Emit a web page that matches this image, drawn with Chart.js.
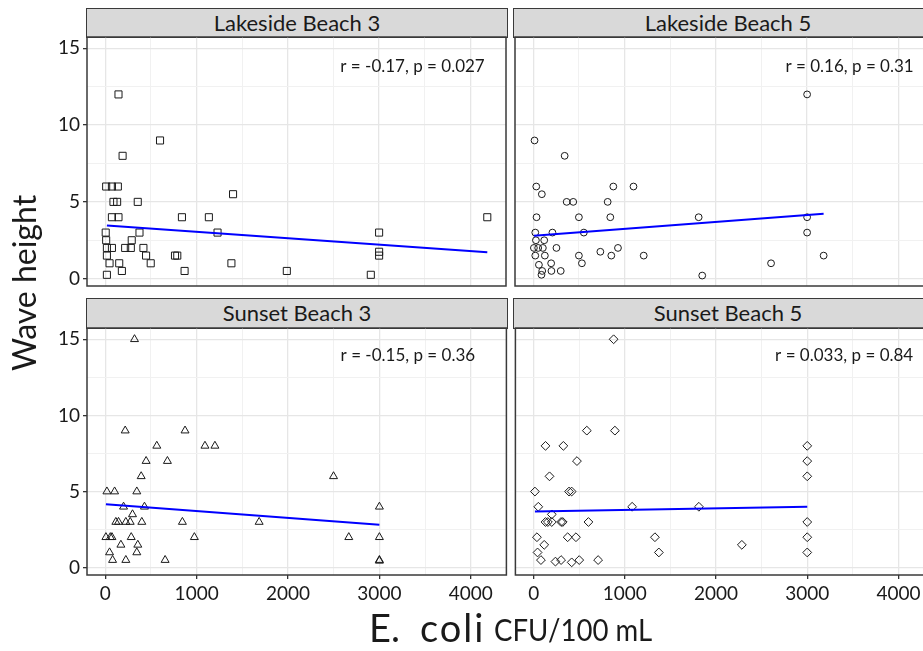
<!DOCTYPE html>
<html>
<head>
<meta charset="utf-8">
<title>Wave height vs E. coli</title>
<script src="https://cdn.jsdelivr.net/npm/chart.js@4/dist/chart.umd.min.js"></script>
<style>
  html, body { margin: 0; padding: 0; background: #fff; }
  body { width: 923px; height: 651px; overflow: hidden; position: relative; font-family: Lato, "Noto Sans", sans-serif; color: #1a1a1a; }
  canvas { position: absolute; }
  .strip { position: absolute; box-sizing: border-box; background: #d9d9d9; border: 1.5px solid #3a3a3a;
           font-size: 22px; text-align: center; color: #1a1a1a; white-space: nowrap; }
  .ytitle { position: absolute; width: 240px; height: 40px; line-height: 40px; text-align: center;
            font-size: 32px; transform: rotate(-90deg); white-space: nowrap; }
  .xt { position: absolute; white-space: nowrap; }
</style>
</head>
<body>

<div class="strip" style="left:86px;top:8px;width:422px;height:30px;line-height:27px;">Lakeside Beach 3</div>
<div class="strip" style="left:513px;top:8px;width:430px;height:30px;line-height:27px;"><span style="display:inline-block;width:422px;">Lakeside Beach 5</span></div>
<div class="strip" style="left:86px;top:298px;width:422px;height:31px;line-height:28px;">Sunset Beach 3</div>
<div class="strip" style="left:513px;top:298px;width:430px;height:31px;line-height:28px;"><span style="display:inline-block;width:422px;">Sunset Beach 5</span></div>

<canvas id="p0" width="512" height="262" style="left:0;top:30px;"></canvas>
<canvas id="p1" width="430" height="262" style="left:510px;top:30px;"></canvas>
<canvas id="p2" width="512" height="290" style="left:0;top:320px;"></canvas>
<canvas id="p3" width="430" height="290" style="left:510px;top:320px;"></canvas>

<div class="ytitle" style="left:-96px;top:263px;">Wave height</div>
<div class="xt" style="left:369px;top:608px;font-size:38px;line-height:38px;">E.</div>
<div class="xt" style="left:420px;top:608px;font-size:38px;line-height:38px;letter-spacing:2px;">coli</div>
<div class="xt" style="left:494px;top:614px;font-size:31px;line-height:31px;transform:scaleX(0.89);transform-origin:0 0;">CFU/100 mL</div>

<script>
// Facet titles and correlation labels
const panelTitles = ['Lakeside Beach 3', 'Lakeside Beach 5', 'Sunset Beach 3', 'Sunset Beach 5'];
const statLabels = ['r = -0.17, p = 0.027', 'r = 0.16, p = 0.31', 'r = -0.15, p = 0.36', 'r = 0.033, p = 0.84'];

// Axis ticks (major ones carry labels, minor ones only grid lines)
const xMajorTicks = [0, 1000, 2000, 3000, 4000];
const xMinorTicks = [500, 1500, 2500, 3500];
const yMajorTicks = [0, 5, 10, 15];
const yMinorTicks = [2.5, 7.5, 12.5];

// Lakeside Beach 3
const lakeside3Ecoli = [145, 600, 190, 10, 73, 138, 90, 130, 356, 1400, 73, 145, 840, 1135, 4185, 5, 375, 1230, 3000, 10, 290, 18, 73, 218, 280, 418, 18, 447, 764, 789, 3000, 3000, 47, 153, 498, 1382, 18, 182, 869, 1989, 2909];
const lakeside3Wave  = [12, 9, 8, 6, 6, 6, 5, 5, 5, 5.5, 4, 4, 4, 4, 4, 3, 3, 3, 3, 2.5, 2.5, 2, 2, 2, 2, 2, 1.5, 1.5, 1.5, 1.5, 1.75, 1.5, 1, 1, 1, 1, 0.25, 0.5, 0.5, 0.5, 0.25];
const lakeside3FitX = [18, 4185];
const lakeside3FitY = [3.46, 1.72];

// Lakeside Beach 5
const lakeside5Ecoli = [3000, 14, 344, 33, 877, 1098, 94, 366, 438, 815, 36, 500, 844, 1812, 3000, 22, 210, 554, 3000, 29, 120, 7, 54, 105, 254, 928, 22, 127, 500, 735, 855, 1210, 3181, 62, 196, 533, 2605, 98, 199, 301, 90, 1851];
const lakeside5Wave  = [12, 9, 8, 6, 6, 6, 5.5, 5, 5, 5, 4, 4, 4, 4, 4, 3, 3, 3, 3, 2.5, 2.5, 2, 2, 2, 2, 2, 1.5, 1.5, 1.5, 1.75, 1.5, 1.5, 1.5, 0.9, 1, 1, 1, 0.5, 0.5, 0.5, 0.25, 0.2];
const lakeside5FitX = [7, 3181];
const lakeside5FitY = [2.8, 4.23];

// Sunset Beach 3
const sunset3Ecoli = [320, 218, 873, 564, 1091, 1200, 447, 680, 393, 2498, 18, 102, 345, 200, 429, 3000, 298, 116, 145, 225, 273, 400, 844, 1684, 7, 55, 73, 284, 975, 2665, 3000, 171, 356, 47, 345, 80, 225, 655, 3000, 3000];
const sunset3Wave  = [15, 9, 9, 8, 8, 8, 7, 7, 6, 6, 5, 5, 5, 4, 4, 4, 3.5, 3, 3, 3, 3, 3, 3, 3, 2, 2, 2, 2, 2, 2, 2, 1.5, 1.5, 1, 1, 0.5, 0.5, 0.5, 0.5, 0.45];
const sunset3FitX = [7, 3000];
const sunset3FitY = [4.17, 2.82];

// Sunset Beach 5
const sunset5Ecoli = [877, 583, 891, 130, 326, 3000, 475, 3000, 174, 3000, 14, 388, 417, 51, 1080, 1812, 199, 130, 156, 199, 301, 319, 601, 3000, 36, 373, 464, 1330, 3000, 116, 2283, 43, 1373, 3000, 80, 239, 301, 417, 500, 707];
const sunset5Wave  = [15, 9, 9, 8, 8, 8, 7, 7, 6, 6, 5, 5, 5, 4, 4, 4, 3.5, 3, 3, 3, 3, 3, 3, 3, 2, 2, 2, 2, 2, 1.5, 1.5, 1, 1, 1, 0.5, 0.4, 0.5, 0.35, 0.5, 0.5];
const sunset5FitX = [14, 3000];
const sunset5FitY = [3.69, 4.0];

// Shared scale limits (includes the usual padding around the data)
const X_MIN = -200, X_MAX = 4390;
const Y_MIN = -0.48, Y_MAX = 15.74;

const INK = '#1a1a1a';
const FRAME = '#3a3a3a';

// Panel border plus the correlation label in data coordinates
const panelFrame = {
  id: 'panelFrame',
  afterDatasetsDraw(chart, args, opts) {
    const { ctx, chartArea: a, scales: { x, y } } = chart;
    ctx.save();
    ctx.font = '17px Lato, "Noto Sans", sans-serif';
    ctx.fillStyle = INK;
    ctx.textAlign = 'center';
    ctx.textBaseline = 'middle';
    ctx.fillText(opts.label, x.getPixelForValue(opts.at[0]), y.getPixelForValue(opts.at[1]));
    ctx.strokeStyle = FRAME;
    ctx.lineWidth = 1.5;
    ctx.strokeRect(a.left, a.top, a.right - a.left, a.bottom - a.top);
    ctx.restore();
  }
};

function asTicks(arr) { return arr.slice().sort((a, b) => a - b).map(v => ({ value: v })); }

function buildPanel(cfg) {
  const xAll = xMajorTicks.concat(xMinorTicks);
  const yAll = yMajorTicks.concat(yMinorTicks);
  const gridColor = (major) => (ctx) => (major.includes(ctx.tick && ctx.tick.value) ? '#e6e6e6' : '#f1f1f1');
  const gridWidth = (major) => (ctx) => (major.includes(ctx.tick && ctx.tick.value) ? 1.3 : 1);
  const tickColor = (major) => (ctx) => (major.includes(ctx.tick && ctx.tick.value) ? '#333333' : 'rgba(0,0,0,0)');

  return new Chart(document.getElementById(cfg.canvas), {
    type: 'scatter',
    data: {
      datasets: [
        {
          type: 'line',
          data: cfg.fitX.map((v, i) => ({ x: v, y: cfg.fitY[i] })),
          borderColor: '#0000ff',
          borderWidth: 2,
          pointRadius: 0,
          fill: false,
          tension: 0
        },
        {
          type: 'scatter',
          data: cfg.ecoli.map((v, i) => ({ x: v, y: cfg.wave[i] })),
          pointStyle: cfg.shape,
          pointRadius: cfg.radius,
          borderColor: INK,
          backgroundColor: 'rgba(0,0,0,0)',
          borderWidth: 1
        }
      ]
    },
    options: {
      responsive: false,
      animation: false,
      events: [],
      layout: { padding: cfg.padding },
      plugins: {
        legend: { display: false },
        tooltip: { enabled: false },
        title: { display: false },
        panelFrame: { label: cfg.label, at: cfg.statAt }
      },
      scales: {
        x: {
          type: 'linear',
          min: X_MIN,
          max: X_MAX,
          afterBuildTicks: (s) => { s.ticks = asTicks(xAll); },
          afterFit: (s) => { s.height = cfg.showX ? 35 : 0; s.paddingLeft = 0; s.paddingRight = 0; },
          border: { display: false },
          grid: {
            color: gridColor(xMajorTicks),
            lineWidth: gridWidth(xMajorTicks),
            drawTicks: cfg.showX,
            tickLength: 4,
            tickColor: tickColor(xMajorTicks),
            tickWidth: 1.3
          },
          ticks: {
            display: cfg.showX,
            autoSkip: false,
            maxRotation: 0,
            padding: 3,
            color: INK,
            font: { family: 'Lato', size: 19 },
            callback: (v) => (xMajorTicks.includes(v) ? String(v) : '')
          }
        },
        y: {
          type: 'linear',
          min: Y_MIN,
          max: Y_MAX,
          afterBuildTicks: (s) => { s.ticks = asTicks(yAll); },
          afterFit: (s) => { s.width = cfg.yWidth; s.paddingTop = 0; s.paddingBottom = 0; },
          border: { display: false },
          grid: {
            color: gridColor(yMajorTicks),
            lineWidth: gridWidth(yMajorTicks),
            drawTicks: cfg.showY,
            tickLength: 4,
            tickColor: tickColor(yMajorTicks),
            tickWidth: 1.3
          },
          ticks: {
            display: cfg.showY,
            autoSkip: false,
            padding: 3,
            color: INK,
            font: { family: 'Lato', size: 19 },
            callback: (v) => (yMajorTicks.includes(v) ? String(v) : '')
          }
        }
      }
    },
    plugins: [panelFrame]
  });
}

const panels = [
  { canvas: 'p0', ecoli: lakeside3Ecoli, wave: lakeside3Wave, fitX: lakeside3FitX, fitY: lakeside3FitY,
    shape: 'rect', radius: 5, label: statLabels[0], statAt: [3366, 13.8],
    showX: false, showY: true, yWidth: 87, padding: { top: 7, right: 5, bottom: 6, left: 0 } },
  { canvas: 'p1', ecoli: lakeside5Ecoli, wave: lakeside5Wave, fitX: lakeside5FitX, fitY: lakeside5FitY,
    shape: 'circle', radius: 3.4, label: statLabels[1], statAt: [3465, 13.8],
    showX: false, showY: false, yWidth: 4, padding: { top: 7, right: 6, bottom: 6, left: 0 } },
  { canvas: 'p2', ecoli: sunset3Ecoli, wave: sunset3Wave, fitX: sunset3FitX, fitY: sunset3FitY,
    shape: 'triangle', radius: 4.6, label: statLabels[2], statAt: [3312, 13.95],
    showX: true, showY: true, yWidth: 87, padding: { top: 8, right: 5, bottom: 0, left: 0 } },
  { canvas: 'p3', ecoli: sunset5Ecoli, wave: sunset5Wave, fitX: sunset5FitX, fitY: sunset5FitY,
    shape: 'rectRot', radius: 4.4, label: statLabels[3], statAt: [3405, 13.95],
    showX: true, showY: false, yWidth: 4, padding: { top: 8, right: 6, bottom: 0, left: 0 } }
];

panels.forEach(buildPanel);
</script>
</body>
</html>
